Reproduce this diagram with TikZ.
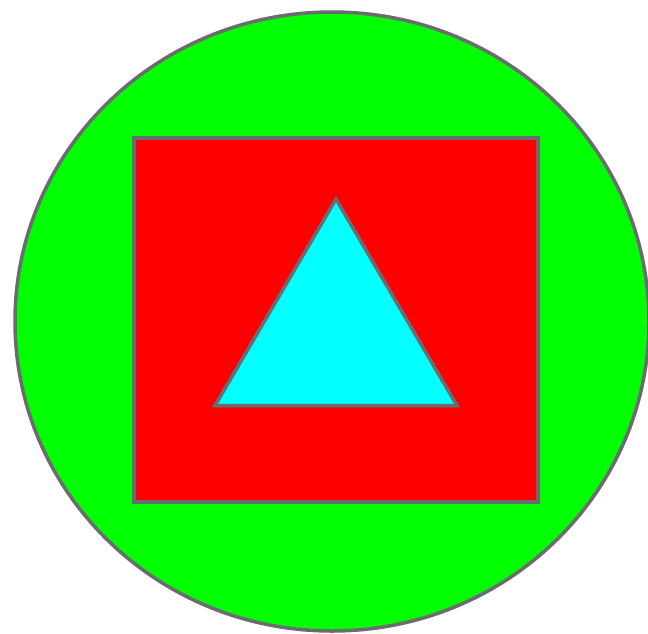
\documentclass[tikz,border=0pt]{standalone}
\definecolor{edgegray}{RGB}{108,108,112}
\definecolor{cgreen}{RGB}{0,255,0}
\definecolor{cred}{RGB}{255,0,0}
\definecolor{ccyan}{RGB}{0,255,255}
\begin{document}
\begin{tikzpicture}[x=1pt,y=-1pt,
  shapeline/.style={draw=edgegray,line width=3.5pt,line join=miter}]
\useasboundingbox (0,0) rectangle (648,633);
\begin{scope}
\clip (0,0) rectangle (648,633);
\draw[shapeline,fill=cgreen] (332,321.5) ellipse [x radius=317, y radius=309.5];
\end{scope}
\draw[shapeline,fill=cred] (134,138) rectangle (538,502);
\draw[shapeline,fill=ccyan] (336,199) -- (457,405.5) -- (215,405.5) -- cycle;
\end{tikzpicture}
\end{document}
